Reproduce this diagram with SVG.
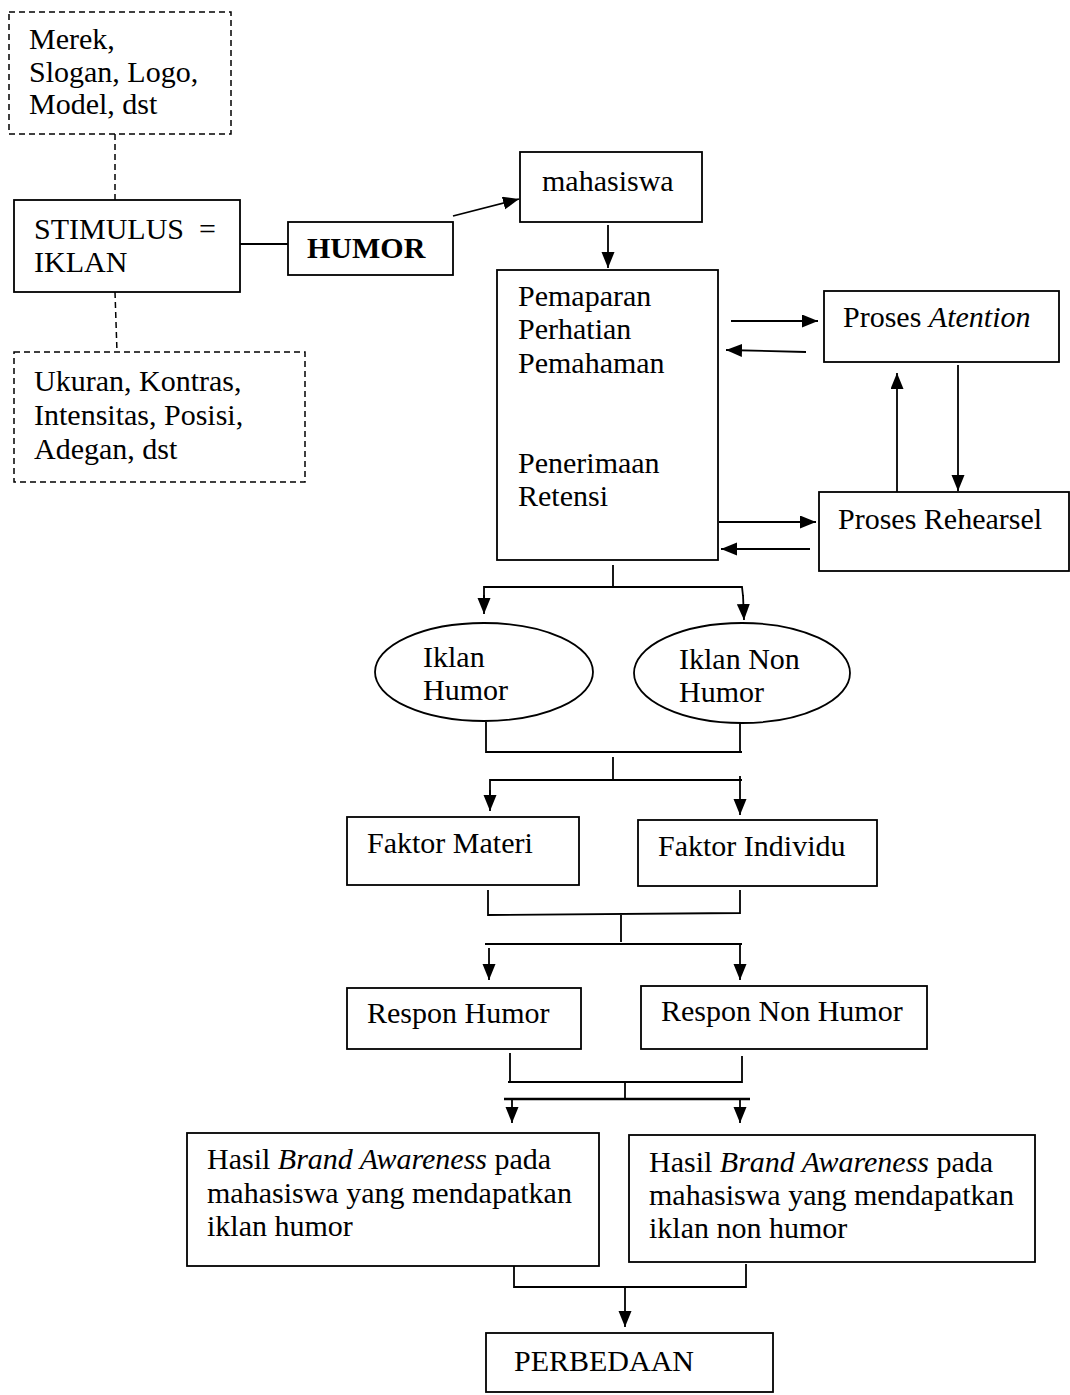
<svg xmlns="http://www.w3.org/2000/svg" width="1070" height="1395" viewBox="0 0 1070 1395">
<style>
.b{fill:#fff;stroke:#000;stroke-width:1.8}
.d{fill:#fff;stroke:#000;stroke-width:1.5;stroke-dasharray:6,4}
.t{font-family:"Liberation Serif","Times New Roman",serif;font-size:30px;fill:#000}
.c line,.c polyline{stroke:#000;stroke-width:1.8;fill:none}
.c .dl{stroke-dasharray:6,4;stroke-width:1.5}
</style>
<defs>
<marker id="a" markerUnits="userSpaceOnUse" markerWidth="17" markerHeight="14" refX="16" refY="6.5" orient="auto">
<path d="M0,0 L16,6.5 L0,13 z" fill="#000"/>
</marker>
</defs>
<rect width="1070" height="1395" fill="#fff"/>
<g class="c" id="connectors">
<line class="dl" x1="115" y1="134" x2="115" y2="200"/>
<line class="dl" x1="115" y1="292" x2="117" y2="352"/>
<line x1="240" y1="244" x2="288" y2="244"/>
<line x1="453" y1="216" x2="519" y2="199" marker-end="url(#a)"/>
<line x1="608" y1="225" x2="608" y2="268" marker-end="url(#a)"/>
<line x1="731" y1="321" x2="818" y2="321" marker-end="url(#a)"/>
<line x1="806" y1="352" x2="726" y2="350" marker-end="url(#a)"/>
<line x1="897" y1="495" x2="897" y2="373" marker-end="url(#a)"/>
<line x1="958" y1="365" x2="958" y2="491" marker-end="url(#a)"/>
<line x1="719" y1="522" x2="816" y2="522" marker-end="url(#a)"/>
<line x1="810" y1="549" x2="721" y2="549" marker-end="url(#a)"/>
<line x1="613" y1="565" x2="613" y2="587"/>
<polyline points="484,600 484,587 742,587 743,596"/>
<line x1="484" y1="595" x2="484" y2="614" marker-end="url(#a)"/>
<line x1="743" y1="595" x2="744" y2="620" marker-end="url(#a)"/>
<polyline points="486,722 486,752 742,752"/>
<line x1="740" y1="722" x2="740" y2="752"/>
<line x1="613" y1="757" x2="613" y2="781"/>
<polyline points="490,795 490,780 742,780"/>
<line x1="490" y1="790" x2="490" y2="811" marker-end="url(#a)"/>
<line x1="740" y1="776" x2="740" y2="815" marker-end="url(#a)"/>
<polyline points="488,890 488,915 740,913 740,890"/>
<line x1="621" y1="915" x2="621" y2="942"/>
<line x1="485" y1="944" x2="742" y2="944"/>
<line x1="489" y1="948" x2="489" y2="980" marker-end="url(#a)"/>
<line x1="740" y1="945" x2="740" y2="980" marker-end="url(#a)"/>
<polyline points="510,1053 510,1082 742,1082 742,1056"/>
<line x1="508" y1="1082" x2="510" y2="1082"/>
<line x1="625" y1="1082" x2="625" y2="1098"/>
<line x1="504" y1="1099" x2="750" y2="1099" style="stroke-width:2.4"/>
<line x1="512" y1="1100" x2="512" y2="1123" marker-end="url(#a)"/>
<line x1="740" y1="1100" x2="740" y2="1123" marker-end="url(#a)"/>
<polyline points="514,1266 514,1287 746,1287 746,1264"/>
<line x1="625" y1="1287" x2="625" y2="1327" marker-end="url(#a)"/>
</g>
<g id="n-merek">
<rect class="d" x="9" y="12" width="222" height="122"/>
<text class="t" x="29" y="49">Merek,</text>
<text class="t" x="29" y="82">Slogan, Logo,</text>
<text class="t" x="29" y="114">Model, dst</text>
</g>
<g id="n-stimulus">
<rect class="b" x="14" y="200" width="226" height="92"/>
<text class="t" x="34" y="239" xml:space="preserve">STIMULUS  =</text>
<text class="t" x="34" y="272">IKLAN</text>
</g>
<g id="n-ukuran">
<rect class="d" x="14" y="352" width="291" height="130"/>
<text class="t" x="34" y="391">Ukuran, Kontras,</text>
<text class="t" x="34" y="425">Intensitas, Posisi,</text>
<text class="t" x="34" y="459">Adegan, dst</text>
</g>
<g id="n-humor">
<rect class="b" x="288" y="222" width="165" height="53"/>
<text class="t" x="307" y="258" font-weight="bold">HUMOR</text>
</g>
<g id="n-mahasiswa">
<rect class="b" x="520" y="152" width="182" height="70"/>
<text class="t" x="542" y="191">mahasiswa</text>
</g>
<g id="n-proses">
<rect class="b" x="497" y="270" width="221" height="290"/>
<text class="t" x="518" y="306">Pemaparan</text>
<text class="t" x="518" y="339">Perhatian</text>
<text class="t" x="518" y="373">Pemahaman</text>
<text class="t" x="518" y="473">Penerimaan</text>
<text class="t" x="518" y="506">Retensi</text>
</g>
<g id="n-atention">
<rect class="b" x="824" y="291" width="235" height="71"/>
<text class="t" x="843" y="327">Proses <tspan font-style="italic">Atention</tspan></text>
</g>
<g id="n-rehearsel">
<rect class="b" x="819" y="492" width="250" height="79"/>
<text class="t" x="838" y="529">Proses Rehearsel</text>
</g>
<g id="n-iklan-humor">
<ellipse class="b" cx="484" cy="672" rx="109" ry="49"/>
<text class="t" x="423" y="667">Iklan</text>
<text class="t" x="423" y="700">Humor</text>
</g>
<g id="n-iklan-non">
<ellipse class="b" cx="742" cy="673" rx="108" ry="50"/>
<text class="t" x="679" y="669">Iklan Non</text>
<text class="t" x="679" y="702">Humor</text>
</g>
<g id="n-faktor-materi">
<rect class="b" x="347" y="817" width="232" height="68"/>
<text class="t" x="367" y="853">Faktor Materi</text>
</g>
<g id="n-faktor-individu">
<rect class="b" x="638" y="820" width="239" height="66"/>
<text class="t" x="658" y="856">Faktor Individu</text>
</g>
<g id="n-respon-humor">
<rect class="b" x="347" y="988" width="234" height="61"/>
<text class="t" x="367" y="1023">Respon Humor</text>
</g>
<g id="n-respon-non">
<rect class="b" x="641" y="986" width="286" height="63"/>
<text class="t" x="661" y="1021">Respon Non Humor</text>
</g>
<g id="n-hasil-humor">
<rect class="b" x="187" y="1133" width="412" height="133"/>
<text class="t" x="207" y="1169">Hasil <tspan font-style="italic">Brand Awareness</tspan> pada</text>
<text class="t" x="207" y="1203">mahasiswa yang mendapatkan</text>
<text class="t" x="207" y="1236">iklan humor</text>
</g>
<g id="n-hasil-non">
<rect class="b" x="629" y="1135" width="406" height="127"/>
<text class="t" x="649" y="1172">Hasil <tspan font-style="italic">Brand Awareness</tspan> pada</text>
<text class="t" x="649" y="1205">mahasiswa yang mendapatkan</text>
<text class="t" x="649" y="1238">iklan non humor</text>
</g>
<g id="n-perbedaan">
<rect class="b" x="486" y="1333" width="287" height="59"/>
<text class="t" x="514" y="1371">PERBEDAAN</text>
</g>
</svg>
